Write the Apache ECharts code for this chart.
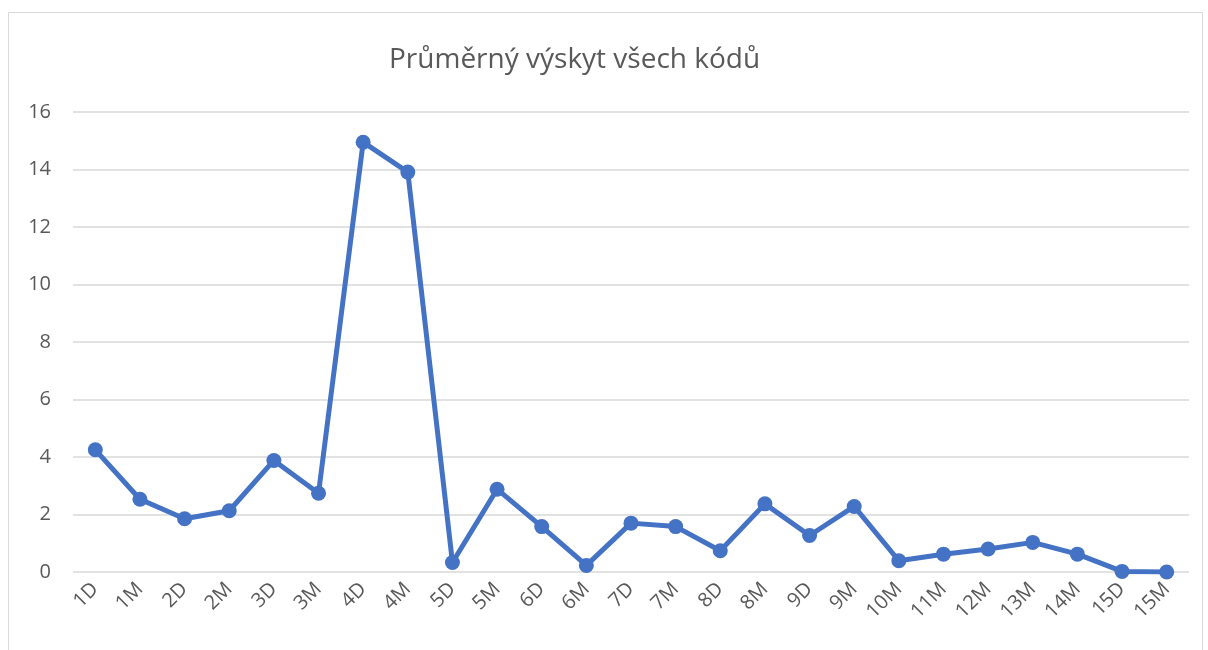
<!DOCTYPE html>
<html><head><meta charset="utf-8">
<script src="https://cdn.jsdelivr.net/npm/echarts@6/dist/echarts.min.js"></script>
<style>html,body{margin:0;padding:0;background:#fff}#c{width:1208px;height:650px}</style>
</head><body><div id="c"></div>
<script>
const categories = ['1D','1M','2D','2M','3D','3M','4D','4M','5D','5M','6D','6M','7D','7M','8D','8M','9D','9M','10M','11M','12M','13M','14M','15D','15M'];
const values = [4.25,2.53,1.85,2.13,3.88,2.74,14.95,13.91,0.33,2.88,1.58,0.23,1.7,1.58,0.74,2.37,1.27,2.28,0.39,0.62,0.8,1.03,0.62,0.02,0.0];
const titleText = 'Průměrný výskyt všech kódů';
const chart = echarts.init(document.getElementById('c'));
chart.setOption({
  animation:false,
  backgroundColor:'#fff',
  graphic:[{type:'rect',shape:{x:8.5,y:12.5,width:1194,height:660},style:{fill:'none',stroke:'#d9d9d9',lineWidth:1},silent:true}],
  title:{text:titleText,left:384,top:41,textStyle:{fontFamily:'Open Sans',fontWeight:'normal',fontSize:28,color:'#595959'}},
  grid:{left:73,right:19,top:112,bottom:78},
  xAxis:{type:'category',data:categories,boundaryGap:true,
    axisLine:{show:false},axisTick:{show:false},
    axisLabel:{rotate:45,color:'#595959',fontSize:20,fontFamily:'Open Sans',margin:14}},
  yAxis:{type:'value',min:0,max:16,interval:2,
    axisLine:{show:false},axisTick:{show:false},
    axisLabel:{color:'#595959',fontSize:20,fontFamily:'Open Sans',margin:22},
    splitLine:{lineStyle:{color:'#d9d9d9',width:1.5}}},
  series:[{type:'line',data:values,symbol:'circle',symbolSize:15,
    lineStyle:{color:'#4472C4',width:5},itemStyle:{color:'#4472C4'}}]
});
</script></body></html>
